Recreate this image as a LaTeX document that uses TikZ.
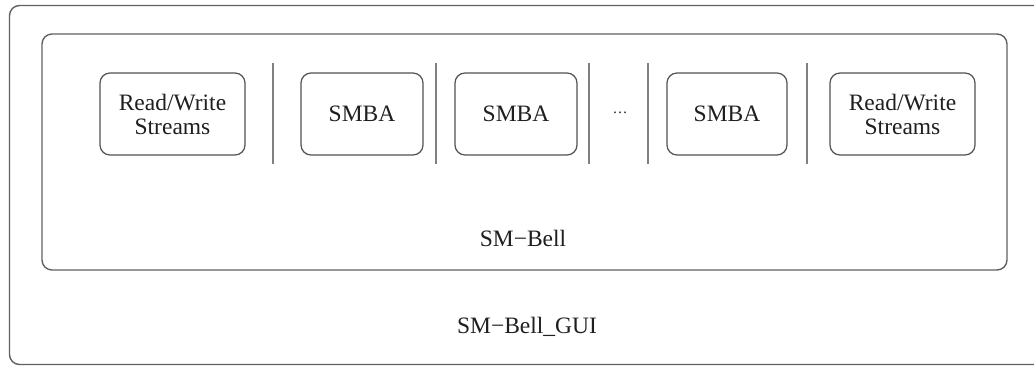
\documentclass[tikz,border=0pt]{standalone}
\usepackage{fontspec}
\setmainfont{Liberation Serif}
\begin{document}
\begin{tikzpicture}[x=1pt,y=-1pt,
  frame/.style={draw=black!62, line width=1.4pt, rounded corners=10pt},
  comp/.style={draw=black!68, line width=1.2pt, rounded corners=10pt, align=center,
    font=\fontsize{23.5}{24}\selectfont, text=black!88, inner sep=0pt,
    minimum height=82pt},
  sepline/.style={draw=black!50, line width=2pt},
  lbl/.style={font=\fontsize{23.5}{24}\selectfont, text=black!88, inner sep=0pt, anchor=base}]
\useasboundingbox (0,0) rectangle (1034,366);
\clip (0,0) rectangle (1034,366);
\fill[white] (0,0) rectangle (1034,366);
% outer and inner frames
\draw[frame] (9.5,5.5) rectangle (1060,364.5);
\draw[frame] (42,34) rectangle (1007,270);
% components
\node[comp, minimum width=145pt] (rw1) at (172.5,114) {Read/Write\\Streams};
\node[comp, minimum width=122pt] (smba1) at (362,114) {SMBA};
\node[comp, minimum width=122pt] (smba2) at (516,114) {SMBA};
\node[lbl, font=\fontsize{15}{16}\selectfont] (dots) at (620,114) {\textellipsis};
\node[comp, minimum width=120pt] (smba3) at (727,114) {SMBA};
\node[comp, minimum width=145pt] (rw2) at (902.5,114) {Read/Write\\Streams};
% separators
\foreach \x/\n in {273/a,436/b,589/c,648/d,807/e}{
  \coordinate (s\n t) at (\x,63);
  \coordinate (s\n b) at (\x,164);
  \draw[sepline] (s\n t) -- (s\n b);
}
% labels
\node[lbl] (bell) at (523,247) {SM−Bell};
\node[lbl] (gui) at (527,333) {SM−Bell\_GUI};
\end{tikzpicture}
\end{document}
